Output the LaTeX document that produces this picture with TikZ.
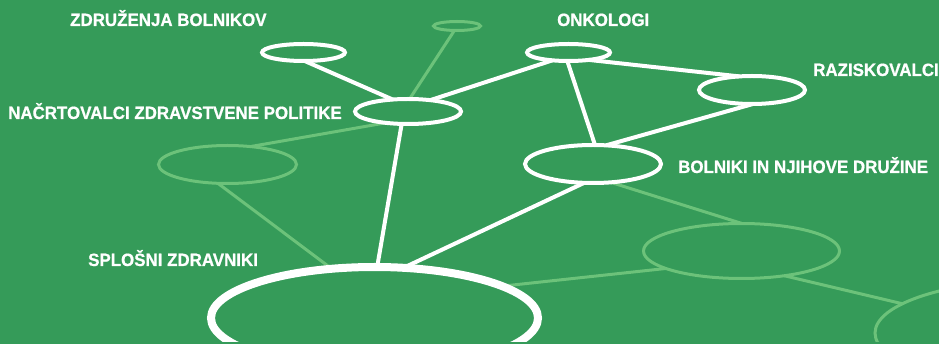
\documentclass[tikz,border=0pt]{standalone}
\usepackage{fontspec}
\newfontfamily\lab{Liberation Sans}[FakeStretch=0.95,FakeBold=0.8]
\usetikzlibrary{shapes.geometric}
\definecolor{bggreen}{HTML}{359B59}
\definecolor{lightg}{HTML}{6CC27A}
\pgfdeclarelayer{back}
\pgfdeclarelayer{bg}
\pgfsetlayers{back,bg,main}
\begin{document}
\begin{tikzpicture}[x=1pt,y=-1pt,
  wov/.style={ellipse, draw=white, line width=4pt, inner sep=0pt, outer sep=0pt},
  lov/.style={ellipse, draw=lightg, line width=3pt, inner sep=0pt, outer sep=0pt},
  wline/.style={draw=white, line width=4pt},
  lline/.style={draw=lightg, line width=3pt},
  lbl/.style={anchor=base west, inner sep=0pt, text=white, font=\lab\bfseries\fontsize{17.8}{20}\selectfont}]
\begin{pgfonlayer}{back}
\fill[bggreen] (0,0) rectangle (939,344);
\end{pgfonlayer}
\useasboundingbox (0,0) rectangle (939,344);
\begin{scope}
\clip (0,0) rectangle (939,341);
% white nodes
\node[wov, minimum width=83pt, minimum height=17pt] (Z) at (303.5,52.5) {};
\node[wov, minimum width=106pt, minimum height=25pt] (N) at (408,111.5) {};
\node[wov, minimum width=83pt, minimum height=17pt] (O) at (568.5,52.5) {};
\node[wov, minimum width=106pt, minimum height=28pt] (R) at (752,90) {};
\node[wov, minimum width=136pt, minimum height=38pt] (B) at (593,164) {};
\node[wov, line width=8pt, minimum width=327pt, minimum height=102pt] (S) at (374.5,318) {};
% white connectors
\draw[wline] (Z.-82) -- (N.142);
\draw[wline] (N.27) -- (O.206);
\draw[wline] (N.-117) -- (S.87.4);
\draw[wline] (O.-98) -- (B.84.5);
\draw[wline] (O.-20) -- (R.133);
\draw[wline] (R.-86.6) -- (B.55);
\draw[wline] (B.-115) -- (S.60);
\end{scope}
% light network, behind
\begin{pgfonlayer}{bg}
\begin{scope}
\clip (0,0) rectangle (939,341);
\node[lov, minimum width=47pt, minimum height=9pt] (a) at (457,26) {};
\node[lov, minimum width=138pt, minimum height=38pt] (b) at (227.5,164.5) {};
\node[lov, minimum width=196pt, minimum height=55pt] (c) at (741.5,251) {};
\node[lov, minimum width=330pt, minimum height=106pt] (d) at (1040,333) {};
\draw[lline] (a.-120) -- (N.83);
\draw[lline] (N.207) -- (b.38);
\draw[lline] (b.-117) -- (S.131);
\draw[lline] (B.-46) -- (c.89);
\draw[lline] (c.-167.5) -- (S.14);
\draw[lline] (c.-30) -- (d.168);
\end{scope}
\end{pgfonlayer}
% labels
\node[lbl] (tZ) at (70,26) {ZDRUŽENJA BOLNIKOV};
\node[lbl] (tO) at (557,26) {ONKOLOGI};
\node[lbl] (tR) at (813,76) {RAZISKOVALCI};
\node[lbl] (tN) at (8,119) {NAČRTOVALCI ZDRAVSTVENE POLITIKE};
\node[lbl] (tB) at (678,173) {BOLNIKI IN NJIHOVE DRUŽINE};
\node[lbl] (tS) at (88,266) {SPLOŠNI ZDRAVNIKI};
\end{tikzpicture}
\end{document}
